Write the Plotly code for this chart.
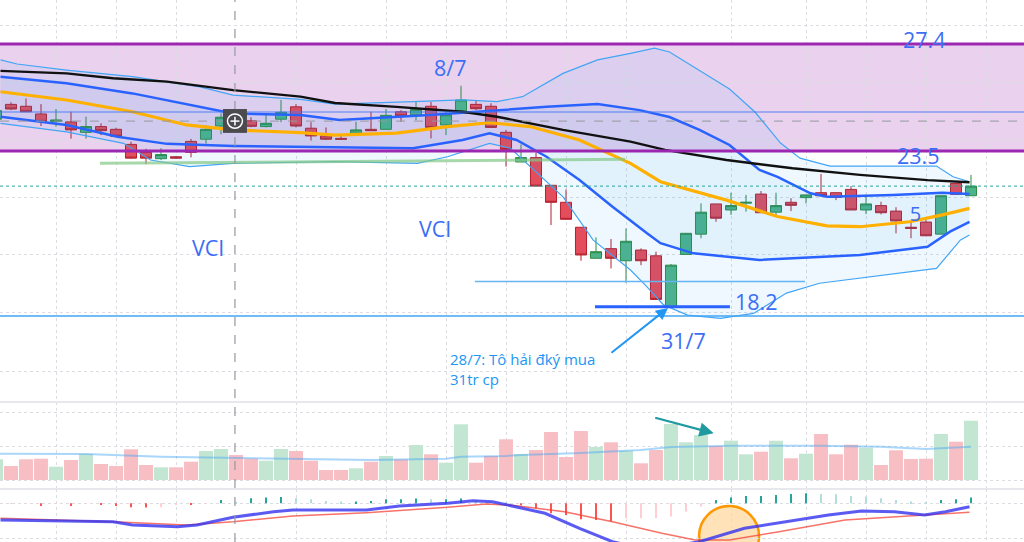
import plotly.graph_objects as go

# ---------------- data ----------------
idx = list(range(-1, 65))
opens = [24.66, 25.20, 25.13, 24.85, 24.58, 24.56, 24.18, 24.39, 24.29, 23.74, 23.45, 23.22, 23.29, 23.85,
         23.93, 24.41, 24.70, 24.60, 24.39, 24.66, 25.11, 24.33, 24.05, 23.96, 24.15, 24.29, 24.29, 24.93,
         24.82, 25.13, 24.45, 24.96, 25.20, 25.13, 24.18, 23.10, 23.26, 22.25, 21.63, 20.72, 19.59, 19.94,
         19.50, 19.89, 19.68, 17.82, 19.73, 20.47, 21.57, 21.35, 21.60, 21.93, 21.27, 21.63, 21.80, 21.98,
         21.98, 22.10, 21.35, 21.51, 21.31, 20.72, 20.91, 20.47, 22.32, 21.87]
highs = [25.01, 25.28, 25.41, 25.21, 25.03, 24.93, 24.75, 24.51, 24.35, 23.84, 23.58, 23.60, 23.32, 23.94,
         24.44, 24.87, 24.81, 24.73, 24.81, 25.36, 25.21, 24.55, 24.36, 24.08, 24.57, 24.93, 25.03, 24.99,
         25.32, 25.29, 24.99, 25.88, 25.36, 25.24, 24.27, 23.74, 23.44, 22.25, 22.10, 20.72, 20.35, 20.29,
         20.68, 19.95, 19.83, 19.38, 20.50, 21.59, 21.57, 21.98, 21.90, 22.04, 21.98, 21.78, 21.90, 22.66,
         21.98, 22.22, 21.90, 21.65, 21.45, 20.92, 20.99, 21.87, 22.32, 22.63]
lows = [24.61, 24.99, 24.92, 24.41, 24.39, 23.95, 23.95, 24.08, 24.01, 23.22, 23.02, 23.17, 23.22, 23.27,
        23.77, 24.11, 24.41, 24.37, 24.36, 24.55, 24.36, 23.88, 23.90, 23.90, 24.15, 24.24, 24.29, 24.57,
        24.63, 23.96, 24.08, 24.96, 24.99, 24.36, 22.93, 23.10, 22.22, 20.80, 21.01, 19.50, 19.59, 19.22,
        18.70, 19.34, 18.09, 17.82, 19.73, 20.32, 20.92, 21.17, 21.29, 21.25, 21.13, 21.31, 21.59, 21.87,
        21.71, 21.35, 21.20, 21.19, 20.50, 20.32, 20.40, 20.47, 21.92, 21.87]
closes = [24.97, 25.03, 24.93, 24.58, 24.63, 24.27, 24.39, 24.24, 24.04, 23.24, 23.24, 23.37, 23.24, 23.45,
          24.29, 24.73, 24.52, 24.40, 24.51, 24.91, 24.41, 24.05, 23.93, 23.93, 24.27, 24.24, 24.80, 24.78,
          25.02, 24.36, 24.82, 25.36, 25.04, 24.36, 23.56, 23.26, 22.22, 21.63, 21.01, 19.71, 19.83, 19.59,
          20.21, 19.50, 18.09, 19.34, 20.50, 21.27, 21.05, 21.51, 21.63, 21.25, 21.51, 21.52, 21.90, 21.87,
          21.81, 21.35, 21.57, 21.25, 20.95, 20.68, 20.41, 21.87, 21.92, 22.22]
volume = [2.07, 1.40, 2.07, 2.13, 1.33, 2.00, 2.60, 1.60, 1.40, 3.07, 1.50, 1.27, 1.27, 1.83, 2.90, 3.10,
          2.50, 2.13, 1.93, 3.10, 2.90, 1.93, 1.00, 1.00, 1.17, 1.83, 2.40, 2.07, 3.50, 2.57, 1.73, 5.57,
          1.73, 2.40, 4.07, 2.60, 3.00, 4.80, 2.30, 4.90, 3.30, 3.77, 2.93, 1.67, 3.00, 5.60, 3.77, 4.50,
          3.40, 3.93, 2.57, 2.83, 3.93, 2.17, 2.63, 4.60, 2.57, 3.53, 3.23, 1.50, 2.97, 2.10, 2.13, 4.60,
          3.83, 5.93]
vol_ma_x = [-1, 5, 10, 15, 20, 24, 29, 30, 33, 34, 38, 42, 44, 48, 54, 58, 61, 64]
vol_ma_y = [2.63, 2.60, 2.33, 2.20, 2.10, 2.00, 2.13, 2.33, 2.40, 2.50, 2.70, 3.00, 3.30, 3.43, 3.43, 3.33, 3.10, 3.33]

# indicator lines (sampled points: candle index, price)
black_x = [-0.7, 3.7, 6.8, 10.4, 14.8, 19.3, 21.6, 25.7, 30.1, 32.4, 36.8, 41.3, 43.6, 47.7, 52.1, 56.6, 61.1, 63.9]
black_y = [26.42, 26.33, 26.15, 26.03, 25.72, 25.48, 25.25, 25.11, 24.93, 24.75, 24.27, 23.84, 23.54, 23.17, 22.87, 22.63, 22.44, 22.36]
orange_x = [-0.7, 3.7, 8.1, 11.7, 14.8, 19.3, 21.6, 25.7, 29.1, 31.9, 34.6, 37.9, 41.3, 43.3, 47.7, 51.1, 54.4, 56.6, 59.9, 62.1, 63.9]
orange_y = [25.66, 25.36, 24.93, 24.45, 24.27, 24.17, 24.08, 24.15, 24.39, 24.53, 24.39, 23.90, 23.05, 22.38, 21.71, 21.11, 20.77, 20.74, 20.92, 21.17, 21.41]
up_thin_x = [-0.7, 0.4, 3.7, 8.1, 12.6, 14.8, 19.3, 21.6, 26.8, 30.1, 32.4, 34.1, 36.8, 39.1, 41.3, 42.9, 43.9, 45.9, 47.9, 49.6, 51.3, 52.6, 54.6, 56.6, 61.7, 62.8, 63.9]
up_thin_y = [26.82, 26.67, 26.45, 26.21, 25.84, 25.54, 25.38, 25.21, 25.30, 25.36, 25.30, 25.48, 26.33, 26.82, 27.06, 27.25, 27.11, 26.45, 25.76, 24.92, 23.79, 23.24, 22.95, 22.95, 22.95, 22.56, 22.38]
lo_thin_x = [-0.7, 3.7, 7.5, 9.3, 11.9, 14.8, 21.6, 27.1, 29.1, 31.9, 33.3, 35.1, 36.8, 38.8, 41.3, 42.4, 43.5, 45.1, 47.3, 49.5, 51.7, 53.9, 61.7, 63.3, 63.9]
lo_thin_y = [24.51, 24.20, 23.78, 23.17, 22.93, 23.05, 23.11, 23.05, 23.29, 23.78, 23.60, 22.69, 21.83, 20.26, 19.16, 18.55, 17.89, 17.52, 17.40, 17.58, 18.32, 18.68, 19.22, 20.26, 20.44]
up_thick_x = [-0.7, 3.7, 8.1, 12.6, 14.8, 19.3, 21.9, 27.9, 32.4, 35.7, 39.1, 41.9, 43.9, 45.9, 47.9, 49.9, 51.1, 53.3, 54.4, 58.8, 62.1, 63.9]
up_thick_y = [26.21, 25.97, 25.60, 25.11, 24.87, 24.81, 24.63, 24.81, 24.99, 25.11, 25.21, 24.99, 24.74, 24.27, 23.72, 22.81, 22.56, 21.96, 21.83, 21.90, 21.98, 21.93]
lo_thick_x = [-0.7, 3.7, 7.1, 10.4, 14.8, 21.6, 26.8, 30.1, 31.9, 33.7, 35.7, 37.9, 40.1, 42.4, 43.3, 45.5, 49.9, 56.6, 61.1, 62.6, 63.9]
lo_thick_y = [24.75, 24.45, 24.02, 23.76, 23.68, 23.63, 23.60, 23.90, 24.15, 23.90, 23.29, 22.44, 21.47, 20.50, 20.14, 19.77, 19.53, 19.71, 20.01, 20.56, 20.92]

# MACD panel
macd_x = [-0.7, 6.8, 8.1, 11.1, 12.4, 14.8, 17.5, 18.8, 23.7, 25.9, 29.1, 30.8, 32.1, 33.4, 35.6, 37.9, 40.1, 42.6, 45.9, 48.9, 51.2, 54.5, 56.7, 58.9, 60.9, 62.3, 63.9]
macd_y = [-1.67, -1.84, -2.17, -2.34, -2.17, -1.40, -0.84, -0.67, -0.67, -0.27, 0.00, 0.26, 0.16, -0.27, -1.00, -2.50, -3.84, -4.67, -3.84, -2.50, -1.94, -1.17, -0.77, -0.84, -1.17, -0.84, -0.34]
signal_x = [-0.7, 6.8, 11.7, 14.8, 18.8, 23.7, 29.1, 31.7, 33.4, 36.9, 40.1, 43.4, 45.6, 47.9, 51.2, 55.6, 60.1, 63.9]
signal_y = [-1.50, -1.84, -2.17, -1.84, -1.27, -0.94, -0.40, -0.07, -0.20, -0.84, -1.84, -3.00, -3.67, -3.67, -2.84, -1.67, -1.24, -0.90]
hist = [-0.05, -0.05, -0.05, -0.27, -0.05, -0.27, -0.05, -0.10, -0.27, -0.40, -0.43, -0.40, -0.10, -0.17,
        -0.02, 0.33, 0.15, 0.50, 0.57, 0.63, 0.50, 0.40, 0.23, 0.17, 0.17, 0.23, 0.40, 0.40, 0.47, 0.40,
        0.40, 0.47, 0.30, 0.20, 0.05, -0.20, -0.50, -1.00, -1.17, -1.60, -1.67, -1.83, -1.50, -1.50, -1.50,
        -1.33, -0.83, -0.33, 0.33, 0.57, 0.73, 0.73, 0.83, 0.93, 1.00, 0.93, 0.90, 0.73, 0.67, 0.50, 0.33,
        0.17, 0.07, 0.33, 0.40, 0.57]

grid_x = [3, 7, 11, 19, 25, 29, 33, 37, 41, 48, 53, 57, 61, 65]
grid_price = [28.09, 26.00, 23.90, 21.81, 19.71, 17.60, 15.48]

# ---------------- figure ----------------
fig = go.Figure()

BLUE = "#2962ff"
LBLUE = "#42a5f5"

fig.add_trace(go.Scatter(x=up_thin_x, y=up_thin_y, mode="lines", line=dict(color=LBLUE, width=1.2), hoverinfo="skip"))
fig.add_trace(go.Scatter(x=lo_thin_x, y=lo_thin_y, mode="lines", line=dict(color=LBLUE, width=1.2),
                         fill="tonexty", fillcolor="rgba(33,150,243,0.07)", hoverinfo="skip"))
fig.add_trace(go.Scatter(x=up_thick_x, y=up_thick_y, mode="lines", line=dict(color=BLUE, width=2.5), hoverinfo="skip"))
fig.add_trace(go.Scatter(x=lo_thick_x, y=lo_thick_y, mode="lines", line=dict(color=BLUE, width=2.5),
                         fill="tonexty", fillcolor="rgba(33,150,243,0.06)", hoverinfo="skip"))
fig.add_trace(go.Scatter(x=orange_x, y=orange_y, mode="lines", line=dict(color="#ffb000", width=3.2), hoverinfo="skip"))
fig.add_trace(go.Scatter(x=black_x, y=black_y, mode="lines", line=dict(color="#111111", width=2.4), hoverinfo="skip"))
fig.add_trace(go.Scatter(x=[60.3], y=[21.13], mode="text", text=["5"],
                         textfont=dict(family="Open Sans", size=20, color="#3b6ef5"), hoverinfo="skip"))

fig.add_trace(go.Candlestick(
    x=idx, open=opens, high=highs, low=lows, close=closes,
    increasing=dict(fillcolor="#4fb389", line=dict(color="#2f8a45", width=1)),
    decreasing=dict(fillcolor="#e34d5c", line=dict(color="#b3202e", width=1)),
    whiskerwidth=0, hoverinfo="skip"))

vol_colors = ["#c3e6d3" if c >= o else "#f7bfc4" for o, c in zip(opens, closes)]
fig.add_trace(go.Bar(x=idx, y=volume, marker=dict(color=vol_colors, line=dict(width=0)), yaxis="y2", hoverinfo="skip"))
fig.add_trace(go.Scatter(x=vol_ma_x, y=vol_ma_y, mode="lines", line=dict(color="rgba(66,165,245,0.45)", width=2),
                         yaxis="y2", hoverinfo="skip"))

hist_colors = []
prev = 0
for h in hist:
    if h >= 0:
        hist_colors.append("#26a69a" if h >= prev else "#b2dfdb")
    else:
        hist_colors.append("#ffcdd2" if h >= prev else "#ff5252")
    prev = h
fig.add_trace(go.Bar(x=idx, y=hist, width=0.1, marker=dict(color=hist_colors, line=dict(width=0)),
                     yaxis="y3", hoverinfo="skip"))
fig.add_trace(go.Scatter(x=signal_x, y=signal_y, mode="lines", line=dict(color="rgba(244,67,54,0.75)", width=1.5),
                         yaxis="y3", hoverinfo="skip"))
fig.add_trace(go.Scatter(x=macd_x, y=macd_y, mode="lines", line=dict(color="rgba(50,50,240,0.8)", width=3),
                         yaxis="y3", hoverinfo="skip"))

shapes = []
# purple zone
shapes.append(dict(type="rect", xref="x", yref="y", x0=-5, x1=80, y0=23.5, y1=27.40,
                   fillcolor="rgba(206,147,216,0.42)", line=dict(width=0), layer="below"))
for yy in (23.5, 27.40):
    shapes.append(dict(type="line", xref="paper", yref="y", x0=0, x1=1, y0=yy, y1=yy,
                       line=dict(color="#9c27b0", width=3)))
# horizontal drawings
shapes.append(dict(type="line", xref="paper", yref="y", x0=0, x1=1, y0=24.92, y1=24.92,
                   line=dict(color="rgba(66,120,245,0.45)", width=2)))
shapes.append(dict(type="line", xref="paper", yref="y", x0=0, x1=1, y0=22.22, y1=22.22,
                   line=dict(color="#26a69a", width=1, dash="dot")))
shapes.append(dict(type="line", xref="paper", yref="y", x0=0, x1=1, y0=17.49, y1=17.49,
                   line=dict(color=LBLUE, width=1.5)))
shapes.append(dict(type="line", xref="x", yref="y", x0=5.93, x1=40.93, y0=23.05, y1=23.20,
                   line=dict(color="rgba(129,199,132,0.7)", width=3)))
shapes.append(dict(type="line", xref="x", yref="y", x0=30.93, x1=52.93, y0=18.74, y1=18.74,
                   line=dict(color="#64b5f6", width=1.5)))
shapes.append(dict(type="line", xref="x", yref="y", x0=38.93, x1=47.93, y0=17.82, y1=17.82,
                   line=dict(color=BLUE, width=3)))
# crosshair
shapes.append(dict(type="line", xref="x", yref="paper", x0=14.93, x1=14.93, y0=0, y1=1,
                   line=dict(color="#9598a1", width=1.2, dash="dash")))
shapes.append(dict(type="line", xref="paper", yref="y", x0=0, x1=1, y0=24.59, y1=24.59,
                   line=dict(color="#9598a1", width=1, dash="dash")))
shapes.append(dict(type="rect", xref="x", yref="y", x0=14.13, x1=15.73, y0=24.16, y1=25.03,
                   fillcolor="#4a4a4f", line=dict(width=0)))
shapes.append(dict(type="circle", xref="x", yref="y", x0=14.43, x1=15.43, y0=24.33, y1=24.85,
                   line=dict(color="white", width=1.5)))
shapes.append(dict(type="line", xref="x", yref="y", x0=14.63, x1=15.23, y0=24.59, y1=24.59,
                   line=dict(color="white", width=1.5)))
shapes.append(dict(type="line", xref="x", yref="y", x0=14.93, x1=14.93, y0=24.43, y1=24.75,
                   line=dict(color="white", width=1.5)))
# pane separators
for yp in (1 - 402 / 542, 1 - 489 / 542):
    shapes.append(dict(type="line", xref="paper", yref="paper", x0=0, x1=1, y0=yp, y1=yp,
                       line=dict(color="#e6e8ee", width=2)))
# orange circle on MACD
shapes.append(dict(type="circle", xref="x", yref="y3", x0=45.87, x1=49.87, y0=-6.27, y1=-0.27,
                   fillcolor="rgba(255,183,77,0.4)", line=dict(color="#ff9800", width=2.5), layer="below"))

TXT = dict(family="Open Sans", size=21.5, color="#3b6ef5")
annos = []
for txt, x, y in [("27.4", 60.93, 27.55), ("23.5", 60.47, 23.32), ("8/7", 29.27, 26.56),
                  ("VCI", 13.13, 20.00), ("VCI", 28.27, 20.69), ("18.2", 49.73, 18.00), ("31/7", 44.8, 16.61)]:
    annos.append(dict(x=x, y=y, xref="x", yref="y", text=txt, showarrow=False, font=TXT))
annos.append(dict(x=29.13, y=15.57, xref="x", yref="y", text="28/7: Tô hải đký mua<br>31tr cp",
                  xanchor="left", align="left", showarrow=False,
                  font=dict(family="Open Sans", size=15, color="#2196f3")))
annos.append(dict(x=43.8, y=17.78, xref="x", yref="y", ax=39.93, ay=16.10, axref="x", ayref="y",
                  text="", showarrow=True, arrowhead=2, arrowsize=1.2, arrowwidth=2, arrowcolor="#2196f3"))
annos.append(dict(x=46.85, y=4.67, xref="x", yref="y2", ax=42.85, ay=6.27, axref="x", ayref="y2",
                  text="", showarrow=True, arrowhead=2, arrowsize=1.3, arrowwidth=2.2, arrowcolor="#1e9aa0"))

GRID = dict(showgrid=True, gridcolor="#dcdde3", griddash="dot", gridwidth=1,
            showticklabels=False, zeroline=False, ticks="", showline=False)
fig.update_layout(
    width=1024, height=542, margin=dict(l=0, r=0, t=0, b=0),
    paper_bgcolor="white", plot_bgcolor="white", showlegend=False, bargap=0.07,
    boxgap=0.2, boxgroupgap=0.08,
    xaxis=dict(range=[-11 / 15, 1013 / 15], tickvals=grid_x, rangeslider=dict(visible=False), **GRID),
    yaxis=dict(domain=[1 - 402 / 542, 1], range=[14.351, 29.004], tickvals=grid_price, **GRID),
    yaxis2=dict(domain=[1 - 489 / 542, 1 - 402 / 542], range=[-0.9, 7.8], tickvals=[6.8, 3.4, 0], anchor="x", **GRID),
    yaxis3=dict(domain=[0, 1 - 489 / 542], range=[-3.87, 1.43], tickvals=[0, -3.47], anchor="x", **GRID),
    shapes=shapes, annotations=annos,
)

fig.write_html("out.html", config={"displayModeBar": False},
               post_script="document.body.style.margin='0';")
